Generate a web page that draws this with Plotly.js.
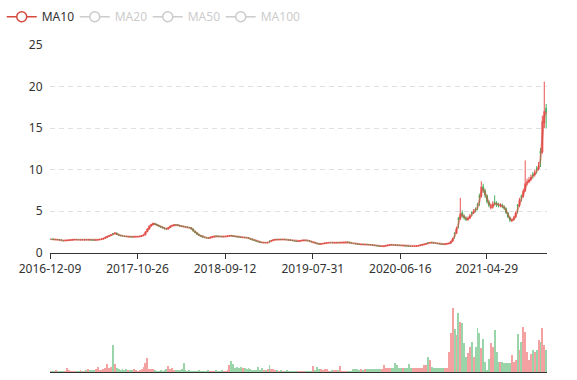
<!DOCTYPE html>
<html><head><meta charset="utf-8">
<script src="https://cdn.plot.ly/plotly-3.0.1.min.js"></script>
<style>html,body{margin:0;padding:0;background:#fff}#chart{width:577px;height:380px}</style>
</head><body><div id="chart"></div>
<script>
// Weekly bars (one per Friday)
const dates = [
'2016-12-09','2016-12-16','2016-12-23','2016-12-30',
'2017-01-06','2017-01-13','2017-01-20','2017-01-27','2017-02-03','2017-02-10','2017-02-17','2017-02-24',
'2017-03-03','2017-03-10','2017-03-17','2017-03-24','2017-03-31','2017-04-07','2017-04-14','2017-04-21','2017-04-28',
'2017-05-05','2017-05-12','2017-05-19','2017-05-26','2017-06-02','2017-06-09','2017-06-16','2017-06-23','2017-06-30',
'2017-07-07','2017-07-14','2017-07-21','2017-07-28','2017-08-04','2017-08-11','2017-08-18','2017-08-25',
'2017-09-01','2017-09-08','2017-09-15','2017-09-22','2017-09-29','2017-10-06','2017-10-13','2017-10-20','2017-10-27',
'2017-11-03','2017-11-10','2017-11-17','2017-11-24','2017-12-01','2017-12-08','2017-12-15','2017-12-22','2017-12-29',
'2018-01-05','2018-01-12','2018-01-19','2018-01-26','2018-02-02','2018-02-09','2018-02-16','2018-02-23',
'2018-03-02','2018-03-09','2018-03-16','2018-03-23','2018-03-30','2018-04-06','2018-04-13','2018-04-20','2018-04-27',
'2018-05-04','2018-05-11','2018-05-18','2018-05-25','2018-06-01','2018-06-08','2018-06-15','2018-06-22','2018-06-29',
'2018-07-06','2018-07-13','2018-07-20','2018-07-27','2018-08-03','2018-08-10','2018-08-17','2018-08-24','2018-08-31',
'2018-09-07','2018-09-14','2018-09-21','2018-09-28','2018-10-05','2018-10-12','2018-10-19','2018-10-26',
'2018-11-02','2018-11-09','2018-11-16','2018-11-23','2018-11-30','2018-12-07','2018-12-14','2018-12-21','2018-12-28',
'2019-01-04','2019-01-11','2019-01-18','2019-01-25','2019-02-01','2019-02-08','2019-02-15','2019-02-22',
'2019-03-01','2019-03-08','2019-03-15','2019-03-22','2019-03-29','2019-04-05','2019-04-12','2019-04-19','2019-04-26',
'2019-05-03','2019-05-10','2019-05-17','2019-05-24','2019-05-31','2019-06-07','2019-06-14','2019-06-21','2019-06-28',
'2019-07-05','2019-07-12','2019-07-19','2019-07-26','2019-08-02','2019-08-09','2019-08-16','2019-08-23','2019-08-30',
'2019-09-06','2019-09-13','2019-09-20','2019-09-27','2019-10-04','2019-10-11','2019-10-18','2019-10-25',
'2019-11-01','2019-11-08','2019-11-15','2019-11-22','2019-11-29','2019-12-06','2019-12-13','2019-12-20','2019-12-27',
'2020-01-03','2020-01-10','2020-01-17','2020-01-24','2020-01-31','2020-02-07','2020-02-14','2020-02-21','2020-02-28',
'2020-03-06','2020-03-13','2020-03-20','2020-03-27','2020-04-03','2020-04-10','2020-04-17','2020-04-24',
'2020-05-01','2020-05-08','2020-05-15','2020-05-22','2020-05-29','2020-06-05','2020-06-12','2020-06-19','2020-06-26',
'2020-07-03','2020-07-10','2020-07-17','2020-07-24','2020-07-31','2020-08-07','2020-08-14','2020-08-21','2020-08-28',
'2020-09-04','2020-09-11','2020-09-18','2020-09-25','2020-10-02','2020-10-09','2020-10-16','2020-10-23','2020-10-30',
'2020-11-06','2020-11-13','2020-11-20','2020-11-27','2020-12-04','2020-12-11','2020-12-18','2020-12-25',
'2021-01-01','2021-01-08','2021-01-15','2021-01-22','2021-01-29','2021-02-05','2021-02-12','2021-02-19','2021-02-26',
'2021-03-05','2021-03-12','2021-03-19','2021-03-26','2021-04-02','2021-04-09','2021-04-16','2021-04-23','2021-04-30',
'2021-05-07','2021-05-14','2021-05-21','2021-05-28','2021-06-04','2021-06-11','2021-06-18','2021-06-25',
'2021-07-02','2021-07-09','2021-07-16','2021-07-23','2021-07-30','2021-08-06','2021-08-13','2021-08-20','2021-08-27',
'2021-09-03','2021-09-10','2021-09-17','2021-09-24','2021-10-01','2021-10-08','2021-10-15','2021-10-22','2021-10-29',
'2021-11-05','2021-11-12','2021-11-19','2021-11-26','2021-12-03'
];

const openP = [
1.60,1.63,1.61,1.58,1.60,1.58,1.54,1.46,1.42,1.46,
1.50,1.52,1.52,1.57,1.59,1.57,1.54,1.56,1.54,1.56,
1.54,1.56,1.53,1.52,1.50,1.52,1.57,1.61,1.63,1.73,
1.86,1.97,2.06,2.30,2.30,2.36,2.19,2.09,2.05,1.99,
1.96,1.91,1.93,1.91,1.89,1.90,1.92,1.94,1.97,2.06,
2.13,2.52,2.84,3.22,3.36,3.52,3.41,3.29,3.17,3.08,
2.97,2.88,2.84,3.03,3.21,3.26,3.36,3.34,3.29,3.20,
3.18,3.12,3.08,3.04,3.01,2.86,2.58,2.41,2.21,2.07,
1.99,1.85,1.80,1.77,1.75,1.86,1.95,2.00,1.98,1.96,
1.93,1.91,1.93,1.97,2.01,2.05,2.02,1.97,1.93,1.89,
1.87,1.83,1.85,1.81,1.79,1.71,1.63,1.54,1.45,1.38,
1.30,1.23,1.20,1.22,1.19,1.40,1.39,1.48,1.54,1.60,
1.58,1.60,1.58,1.60,1.56,1.54,1.53,1.48,1.44,1.40,
1.36,1.39,1.44,1.46,1.51,1.46,1.43,1.37,1.21,1.22,
1.14,1.06,1.03,1.08,1.11,1.16,1.21,1.24,1.21,1.18,
1.19,1.22,1.20,1.21,1.24,1.24,1.27,1.25,1.17,1.13,
1.09,1.06,1.02,0.98,1.00,0.98,1.00,0.98,0.96,0.94,
0.91,0.87,0.82,0.79,0.75,0.77,0.81,0.86,0.91,0.95,
0.93,0.92,0.91,0.89,0.87,0.84,0.84,0.81,0.78,0.76,
0.74,0.77,0.79,0.81,0.86,0.91,0.96,1.02,1.18,1.17,
1.23,1.19,1.15,1.11,1.08,1.05,1.02,1.01,1.05,1.09,
1.13,1.36,2.38,2.32,4.10,4.05,4.80,4.40,4.15,3.95,
4.15,4.85,4.80,5.25,5.80,6.80,6.80,7.95,7.45,6.85,
6.10,5.40,5.45,6.05,6.00,5.78,5.65,5.72,5.50,5.30,
4.75,4.25,3.85,3.95,4.25,5.70,5.65,6.80,6.80,7.45,
8.40,8.55,8.80,9.40,9.35,10.10,10.05,12.20,12.10,15.60,
17.40
];

const highP = [
1.66,1.65,1.64,1.62,1.63,1.60,1.56,1.48,1.48,1.52,
1.54,1.56,1.59,1.61,1.61,1.59,1.58,1.58,1.57,1.58,
1.58,1.58,1.55,1.54,1.55,1.59,1.63,1.68,1.76,1.90,
2.02,2.10,2.18,2.36,2.45,2.40,2.22,2.12,2.08,2.02,
1.99,1.95,1.95,1.93,1.94,1.95,1.96,2.00,2.09,2.18,
2.60,2.95,3.30,3.48,3.62,3.58,3.46,3.34,3.21,3.12,
3.01,2.92,3.08,3.26,3.34,3.42,3.44,3.38,3.33,3.25,
3.22,3.16,3.12,3.08,3.05,2.90,2.62,2.45,2.25,2.10,
2.02,1.88,1.83,1.80,1.89,1.98,2.04,2.04,2.01,1.99,
1.96,1.95,1.99,2.04,2.09,2.08,2.05,2.00,1.96,1.92,
1.90,1.87,1.88,1.84,1.82,1.73,1.65,1.56,1.47,1.40,
1.32,1.26,1.24,1.24,1.24,1.42,1.51,1.57,1.63,1.63,
1.62,1.63,1.62,1.62,1.58,1.56,1.55,1.50,1.46,1.42,
1.41,1.46,1.50,1.53,1.53,1.48,1.45,1.39,1.31,1.24,
1.16,1.08,1.10,1.13,1.18,1.23,1.26,1.26,1.23,1.22,
1.23,1.24,1.25,1.26,1.28,1.29,1.30,1.27,1.19,1.15,
1.11,1.08,1.04,1.02,1.02,1.02,1.02,1.00,0.98,0.96,
0.93,0.89,0.84,0.81,0.78,0.82,0.87,0.92,0.97,0.97,
0.95,0.94,0.93,0.91,0.89,0.87,0.86,0.83,0.80,0.78,
0.78,0.80,0.82,0.87,0.92,0.97,1.03,1.11,1.19,1.26,
1.26,1.21,1.17,1.13,1.10,1.07,1.04,1.07,1.11,1.16,
1.42,1.80,2.45,3.10,4.30,6.60,5.10,4.60,4.35,4.35,
4.65,5.00,5.25,5.45,6.00,7.10,8.60,8.30,7.70,7.00,
6.30,5.90,6.20,6.90,6.20,6.00,5.95,5.90,5.70,5.45,
4.90,4.35,4.10,4.40,4.95,5.85,6.60,7.00,7.70,11.10,
8.90,9.10,9.40,9.70,10.00,10.40,10.90,12.60,16.50,20.60,
17.90
];

const lowP = [
1.57,1.58,1.57,1.55,1.55,1.52,1.45,1.40,1.40,1.44,
1.48,1.50,1.50,1.55,1.54,1.53,1.52,1.53,1.52,1.53,
1.52,1.51,1.50,1.48,1.48,1.50,1.55,1.59,1.61,1.71,
1.83,1.94,2.02,2.08,2.25,2.16,2.04,2.01,1.97,1.92,
1.90,1.89,1.88,1.87,1.87,1.88,1.90,1.92,1.95,2.03,
2.10,2.48,2.80,3.15,3.30,3.35,3.25,3.13,3.02,2.93,
2.82,2.78,2.80,3.00,3.17,3.22,3.30,3.23,3.16,3.12,
3.09,3.04,3.00,2.97,2.80,2.55,2.35,2.15,2.04,1.94,
1.82,1.77,1.75,1.73,1.73,1.83,1.92,1.96,1.94,1.91,
1.89,1.88,1.91,1.95,1.98,2.00,1.95,1.91,1.87,1.85,
1.83,1.81,1.79,1.77,1.69,1.61,1.52,1.43,1.36,1.28,
1.21,1.19,1.17,1.17,1.17,1.20,1.36,1.45,1.51,1.56,
1.55,1.56,1.55,1.54,1.52,1.49,1.46,1.42,1.38,1.34,
1.34,1.37,1.42,1.44,1.45,1.41,1.35,1.27,1.20,1.12,
1.04,1.01,1.01,1.06,1.09,1.14,1.19,1.20,1.18,1.16,
1.17,1.19,1.18,1.19,1.22,1.22,1.24,1.16,1.12,1.08,
1.05,1.01,0.98,0.96,0.97,0.96,0.97,0.95,0.93,0.90,
0.86,0.81,0.78,0.75,0.73,0.75,0.79,0.84,0.89,0.92,
0.90,0.89,0.88,0.86,0.84,0.82,0.80,0.77,0.75,0.73,
0.72,0.75,0.77,0.79,0.84,0.89,0.94,1.00,1.07,1.15,
1.17,1.13,1.09,1.06,1.03,1.00,0.97,0.99,1.03,1.07,
1.11,1.33,1.68,2.25,2.90,3.95,4.20,3.95,3.80,3.85,
4.05,4.35,4.65,4.85,5.10,5.60,6.60,7.20,6.60,5.90,
5.45,5.20,5.30,5.65,5.50,5.45,5.45,5.35,5.15,4.65,
4.15,3.70,3.70,3.85,4.15,4.70,5.50,6.15,6.60,7.30,
8.10,8.35,8.60,8.90,9.15,9.50,9.90,10.30,11.90,15.00,
15.00
];

const closeP = [
1.62,1.61,1.60,1.59,1.58,1.54,1.47,1.43,1.46,1.49,
1.51,1.53,1.56,1.58,1.57,1.56,1.55,1.55,1.55,1.55,
1.55,1.53,1.52,1.51,1.52,1.56,1.60,1.64,1.72,1.85,
1.96,2.04,2.12,2.28,2.35,2.20,2.08,2.04,2.00,1.95,
1.93,1.92,1.91,1.90,1.91,1.92,1.93,1.97,2.05,2.12,
2.50,2.85,3.20,3.37,3.50,3.40,3.30,3.18,3.06,2.98,
2.87,2.85,3.02,3.20,3.27,3.34,3.35,3.28,3.21,3.17,
3.13,3.09,3.05,3.02,2.85,2.60,2.40,2.20,2.08,1.98,
1.86,1.81,1.78,1.76,1.85,1.94,1.99,1.99,1.97,1.94,
1.92,1.92,1.96,2.00,2.04,2.03,1.98,1.94,1.90,1.88,
1.86,1.84,1.82,1.80,1.72,1.64,1.55,1.46,1.39,1.31,
1.24,1.22,1.21,1.20,1.21,1.38,1.47,1.53,1.59,1.59,
1.59,1.59,1.59,1.57,1.55,1.52,1.49,1.45,1.41,1.37,
1.38,1.43,1.47,1.50,1.47,1.44,1.38,1.30,1.23,1.15,
1.07,1.04,1.07,1.10,1.15,1.20,1.23,1.22,1.20,1.19,
1.20,1.21,1.22,1.23,1.25,1.26,1.26,1.18,1.14,1.10,
1.07,1.03,1.00,0.99,0.99,0.99,0.99,0.97,0.95,0.92,
0.88,0.83,0.80,0.77,0.76,0.80,0.85,0.90,0.94,0.94,
0.92,0.91,0.90,0.88,0.86,0.85,0.82,0.79,0.77,0.75,
0.76,0.78,0.80,0.85,0.90,0.95,1.01,1.08,1.16,1.22,
1.20,1.16,1.12,1.09,1.06,1.03,1.00,1.04,1.08,1.12,
1.35,1.70,2.30,2.90,4.00,4.70,4.45,4.20,4.00,4.10,
4.40,4.75,4.95,5.15,5.70,6.70,7.90,7.50,6.90,6.15,
5.70,5.50,5.85,5.95,5.75,5.70,5.70,5.55,5.35,4.80,
4.30,3.90,3.90,4.20,4.75,5.60,6.30,6.70,7.40,8.30,
8.50,8.75,9.05,9.30,9.60,10.00,10.40,12.00,15.80,17.00,
16.90
];

const volume = [
1.5,1,1.5,2,1,1.5,1,1.5,1.5,4.3,
2,1.5,1,1.5,1,1.5,2,1,1.5,2,
2.7,2,2.5,2.5,3,5.3,2,2.5,3,4,
8,4,5,27,7.7,4,3,2.5,3,2.5,
3.3,2,2,2.5,2.7,2,1.5,2,3,5.3,
9.3,14,3.3,3.3,2.7,2,1.5,1.5,2,1.5,
2,3,6,3,4,2,2,1.7,2,3,
8.7,2,1.5,2,1.5,1,1.5,1.5,2,1.5,
1,1.5,1.5,2,1.5,1,1.5,2,1.5,1.5,
2,1.5,1.5,2.5,7,11,8,4,5.3,4.5,
5,3.7,3.7,3,3.7,3,2.5,2.5,2,4.7,
2.5,3.7,2.5,2,3,7,3,3.3,2.5,2,
1.5,2,1.5,1.5,2,1.5,1,1,1,1.5,
1,1,1.5,1,1.5,1,1.5,1.5,5.7,2,
4.7,2.7,2.7,2,2.7,2.7,1.5,1.5,2,2,
2,2,6,1.5,1,1,1,1.5,1.5,2.7,
2.7,2.7,2,2.7,2,3,3,3,3.3,3,
3,3.3,3,3,3,6.7,3.7,3.7,3.7,3.7,
3.7,8.7,7,3.7,3.7,3.7,3.7,4,8,4.3,
4.3,4.3,4.3,4.3,4.3,4.3,6.7,7,14.7,12,
5,3.7,3.7,3.7,3.7,3.7,3.7,3.7,3.7,20,
38.7,64,42.7,37,58.7,50.3,48.7,28.7,15.3,18.7,
25,30.3,15.3,25,43.7,38.7,23.7,32.7,10,2,
12.7,28.7,25,42,20.3,10.3,10.3,10.3,9,8.7,
8.7,8.7,17,10,12,38,22,30,45.3,40.3,
20,12,18,22,20,22,32,30,43.7,27,
22
];

const tickDates = ['2016-12-09','2017-10-26','2018-09-12','2019-07-31','2020-06-16','2021-04-29'];
const tickLabels = ['2016-12-09','2017-10-26','2018-09-12','2019-07-31','2020-06-16','2021-04-29'];
const priceTicks = [0, 5, 10, 15, 20, 25];

// Moving averages of the closes (10/20/50/100 trading days = 2/4/10/20 weekly bars)
function movingAverage(values, n) {
  return values.map((v, i) => {
    if (i < n - 1) return null;
    let s = 0;
    for (let k = i - n + 1; k <= i; k++) s += values[k];
    return +(s / n).toFixed(3);
  });
}
const ma10 = movingAverage(closeP, 2);
const ma20 = movingAverage(closeP, 4);
const ma50 = movingAverage(closeP, 10);
const ma100 = movingAverage(closeP, 20);

const UP = '#eb5454', DOWN = '#47b262', MA_RED = '#d6493d';
const volColors = closeP.map((c, i) => c >= openP[i] ? 'rgba(235,84,84,0.55)' : 'rgba(71,178,98,0.55)');

const legendMarker = (col) => ({symbol: 'circle', size: 10, color: '#fff', line: {color: col, width: 1.5}});

const traces = [
  {
    type: 'candlestick', x: dates, open: openP, high: highP, low: lowP, close: closeP,
    xaxis: 'x', yaxis: 'y', showlegend: false,
    increasing: {line: {color: UP, width: 1}, fillcolor: UP},
    decreasing: {line: {color: DOWN, width: 1}, fillcolor: DOWN}
  },
  {
    type: 'scatter', mode: 'lines', x: dates, y: ma10, xaxis: 'x', yaxis: 'y',
    line: {color: MA_RED, width: 2}, opacity: 0.55, showlegend: false, hoverinfo: 'skip'
  },
  {
    type: 'scatter', mode: 'lines+markers', x: [null], y: [null], xaxis: 'x', yaxis: 'y',
    name: 'MA10', line: {color: MA_RED, width: 1.5}, marker: legendMarker(MA_RED)
  },
  {
    type: 'scatter', mode: 'lines+markers', x: dates, y: ma20, xaxis: 'x', yaxis: 'y',
    name: '<span style="color:#999">MA20</span>', visible: 'legendonly',
    line: {color: '#999', width: 1.5}, marker: legendMarker('#999')
  },
  {
    type: 'scatter', mode: 'lines+markers', x: dates, y: ma50, xaxis: 'x', yaxis: 'y',
    name: '<span style="color:#999">MA50</span>', visible: 'legendonly',
    line: {color: '#999', width: 1.5}, marker: legendMarker('#999')
  },
  {
    type: 'scatter', mode: 'lines+markers', x: dates, y: ma100, xaxis: 'x', yaxis: 'y',
    name: '<span style="color:#999">MA100</span>', visible: 'legendonly',
    line: {color: '#999', width: 1.5}, marker: legendMarker('#999')
  },
  {
    // empty spacer entry so the last legend label is not clipped
    type: 'scatter', mode: 'lines', x: [null], y: [null], xaxis: 'x', yaxis: 'y',
    name: ' ', line: {color: 'rgba(0,0,0,0)', width: 0}, hoverinfo: 'skip'
  },
  {
    type: 'bar', x: dates, y: volume, xaxis: 'x2', yaxis: 'y2', showlegend: false,
    marker: {color: volColors, line: {width: 0}}
  }
];

const layout = {
  width: 577, height: 380, autosize: false,
  margin: {l: 50, r: 30, t: 45, b: 8, pad: 0},
  paper_bgcolor: '#fff', plot_bgcolor: '#fff',
  font: {family: 'Noto Sans, sans-serif', size: 12, color: '#333'},
  showlegend: true,
  legend: {
    orientation: 'h', xref: 'container', yref: 'container', x: 0.003, y: 0.994,
    xanchor: 'left', yanchor: 'top', font: {size: 12, color: '#333'},
    bgcolor: 'rgba(0,0,0,0)', itemwidth: 30, entrywidth: 28, entrywidthmode: 'pixels'
  },
  bargap: 0,
  xaxis: {
    type: 'date', anchor: 'y', domain: [0, 1],
    range: ['2016-12-09', '2021-12-06'],
    tickmode: 'array', tickvals: tickDates, ticktext: tickLabels,
    showline: true, linecolor: '#333', linewidth: 1,
    ticks: 'outside', ticklen: 5, tickcolor: '#333', tickwidth: 1,
    showgrid: false, zeroline: false, rangeslider: {visible: false},
    tickfont: {size: 12, color: '#333'}
  },
  yaxis: {
    anchor: 'x', domain: [0.365, 1], range: [0, 25],
    tickmode: 'array', tickvals: priceTicks,
    showgrid: true, gridcolor: '#e0e0e0', griddash: '5px,4px', gridwidth: 1,
    zeroline: false, showline: false,
    ticks: 'outside', ticklen: 4, tickcolor: 'rgba(0,0,0,0)',
    tickfont: {size: 12, color: '#333'}
  },
  xaxis2: {
    type: 'date', anchor: 'y2', matches: 'x', domain: [0, 1],
    showticklabels: false, ticks: '', showline: true, linecolor: '#333', linewidth: 1,
    showgrid: false, zeroline: false, rangeslider: {visible: false}
  },
  yaxis2: {anchor: 'x2', domain: [0, 0.205], range: [0, 67], visible: false, showgrid: false, zeroline: false}
};

Plotly.newPlot('chart', traces, layout, {displayModeBar: false, responsive: false});
</script>
</body></html>
